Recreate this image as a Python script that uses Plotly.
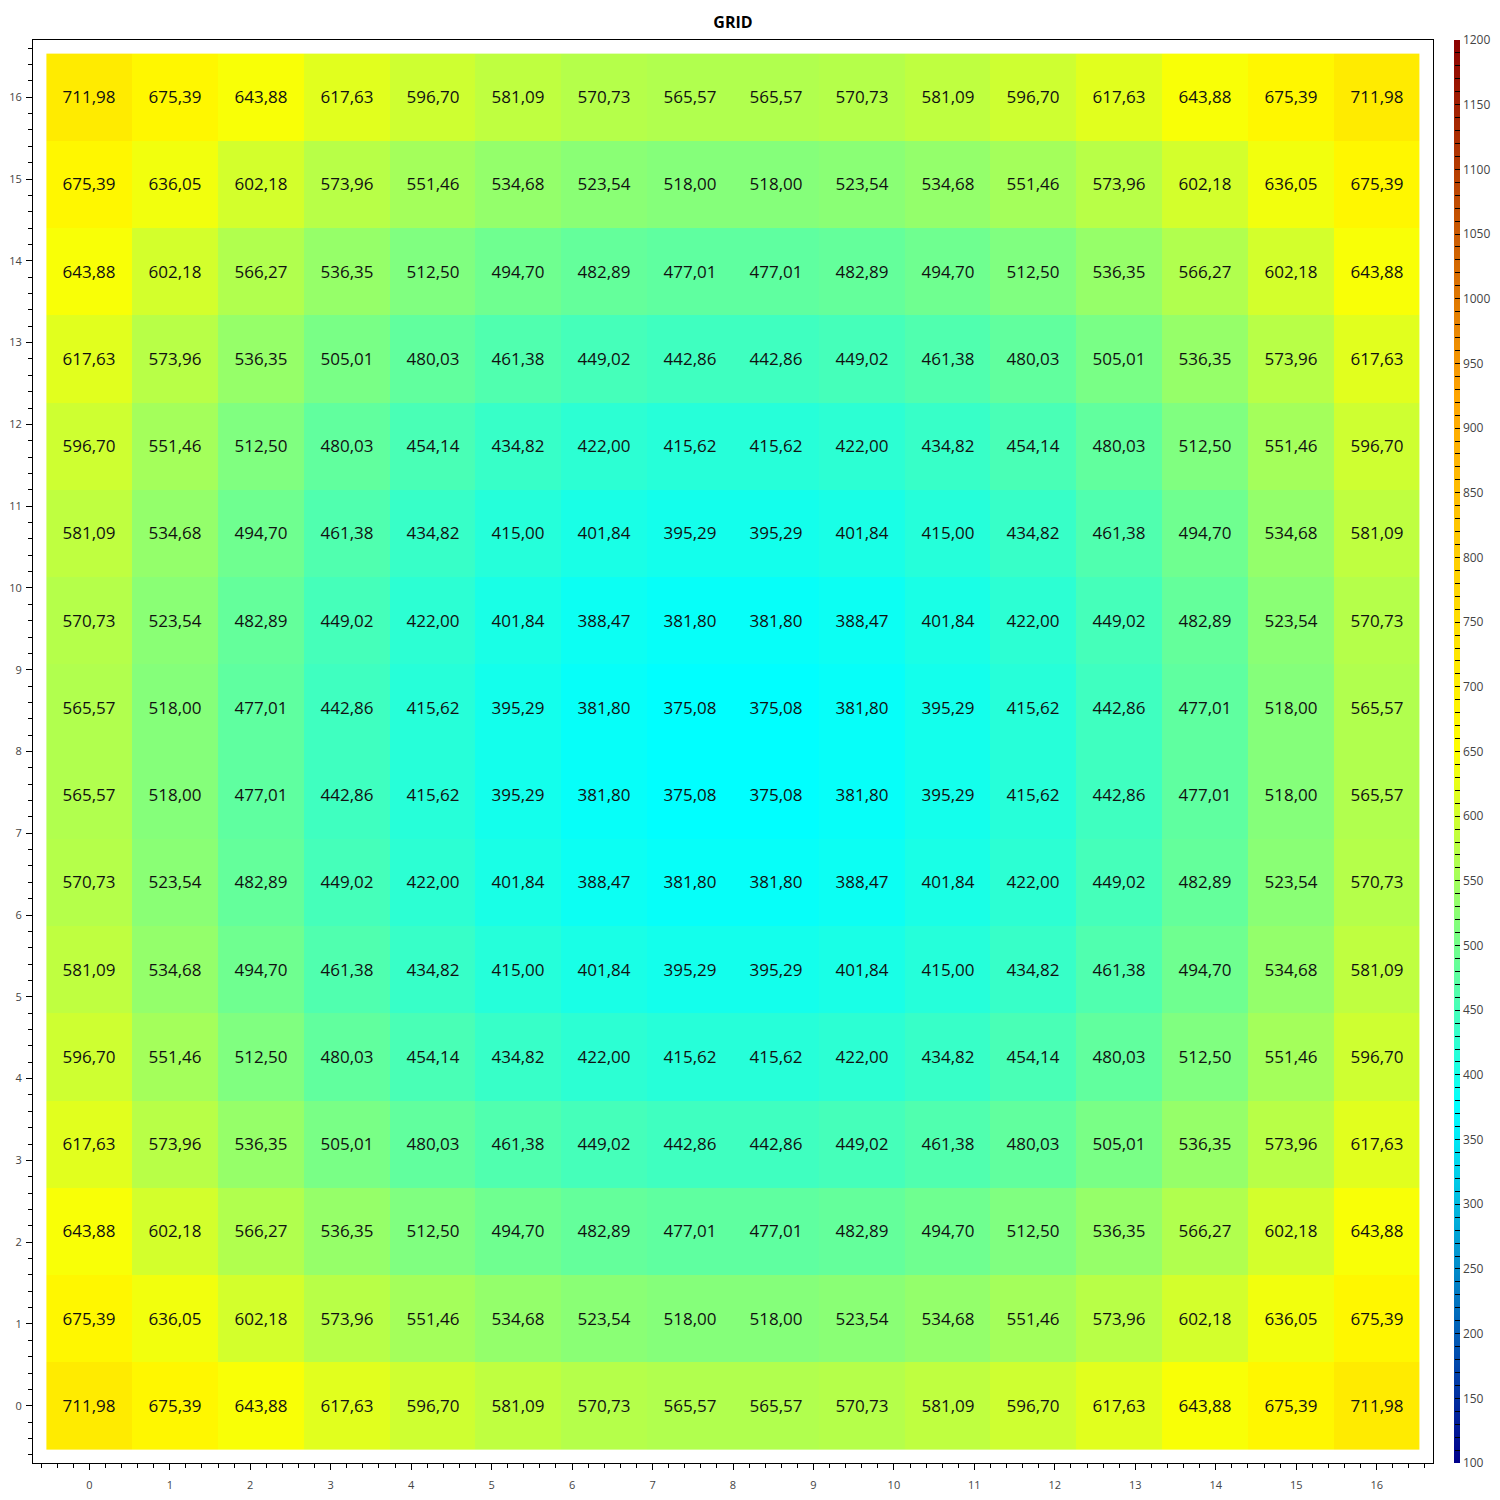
import numpy as np
import plotly.graph_objects as go

# Cell centres along both axes (16 cells spanning axis units 0..16)
x_pos = np.linspace(0, 16, 16)
y_pos = np.linspace(0, 16, 16)

# Values, rows listed from bottom (y=0) to top (y=16)
row_00 = [711.98, 675.39, 643.88, 617.63, 596.70, 581.09, 570.73, 565.57, 565.57, 570.73, 581.09, 596.70, 617.63, 643.88, 675.39, 711.98]
row_01 = [675.39, 636.05, 602.18, 573.96, 551.46, 534.68, 523.54, 518.00, 518.00, 523.54, 534.68, 551.46, 573.96, 602.18, 636.05, 675.39]
row_02 = [643.88, 602.18, 566.27, 536.35, 512.50, 494.70, 482.89, 477.01, 477.01, 482.89, 494.70, 512.50, 536.35, 566.27, 602.18, 643.88]
row_03 = [617.63, 573.96, 536.35, 505.01, 480.03, 461.38, 449.02, 442.86, 442.86, 449.02, 461.38, 480.03, 505.01, 536.35, 573.96, 617.63]
row_04 = [596.70, 551.46, 512.50, 480.03, 454.14, 434.82, 422.00, 415.62, 415.62, 422.00, 434.82, 454.14, 480.03, 512.50, 551.46, 596.70]
row_05 = [581.09, 534.68, 494.70, 461.38, 434.82, 415.00, 401.84, 395.29, 395.29, 401.84, 415.00, 434.82, 461.38, 494.70, 534.68, 581.09]
row_06 = [570.73, 523.54, 482.89, 449.02, 422.00, 401.84, 388.47, 381.80, 381.80, 388.47, 401.84, 422.00, 449.02, 482.89, 523.54, 570.73]
row_07 = [565.57, 518.00, 477.01, 442.86, 415.62, 395.29, 381.80, 375.08, 375.08, 381.80, 395.29, 415.62, 442.86, 477.01, 518.00, 565.57]
row_08 = [565.57, 518.00, 477.01, 442.86, 415.62, 395.29, 381.80, 375.08, 375.08, 381.80, 395.29, 415.62, 442.86, 477.01, 518.00, 565.57]
row_09 = [570.73, 523.54, 482.89, 449.02, 422.00, 401.84, 388.47, 381.80, 381.80, 388.47, 401.84, 422.00, 449.02, 482.89, 523.54, 570.73]
row_10 = [581.09, 534.68, 494.70, 461.38, 434.82, 415.00, 401.84, 395.29, 395.29, 401.84, 415.00, 434.82, 461.38, 494.70, 534.68, 581.09]
row_11 = [596.70, 551.46, 512.50, 480.03, 454.14, 434.82, 422.00, 415.62, 415.62, 422.00, 434.82, 454.14, 480.03, 512.50, 551.46, 596.70]
row_12 = [617.63, 573.96, 536.35, 505.01, 480.03, 461.38, 449.02, 442.86, 442.86, 449.02, 461.38, 480.03, 505.01, 536.35, 573.96, 617.63]
row_13 = [643.88, 602.18, 566.27, 536.35, 512.50, 494.70, 482.89, 477.01, 477.01, 482.89, 494.70, 512.50, 536.35, 566.27, 602.18, 643.88]
row_14 = [675.39, 636.05, 602.18, 573.96, 551.46, 534.68, 523.54, 518.00, 518.00, 523.54, 534.68, 551.46, 573.96, 602.18, 636.05, 675.39]
row_15 = [711.98, 675.39, 643.88, 617.63, 596.70, 581.09, 570.73, 565.57, 565.57, 570.73, 581.09, 596.70, 617.63, 643.88, 675.39, 711.98]

z_values = [row_00, row_01, row_02, row_03, row_04, row_05, row_06, row_07,
            row_08, row_09, row_10, row_11, row_12, row_13, row_14, row_15]

# Axis tick labels
axis_ticks = list(range(0, 17))
cbar_ticks = list(range(100, 1201, 10))
cbar_text = [str(v) if v % 50 == 0 else "" for v in cbar_ticks]

colorscale = [
    [0.00, "#00008B"],
    [0.25, "#00FFFF"],
    [0.50, "#FFFF00"],
    [0.75, "#FFA500"],
    [1.00, "#8B0000"],
]

fig = go.Figure(
    go.Heatmap(
        x=x_pos,
        y=y_pos,
        z=z_values,
        zmin=100,
        zmax=1200,
        colorscale=colorscale,
        texttemplate="%{z:.2f}",
        textfont=dict(family="Open Sans", size=17, color="#111111"),
        hoverinfo="skip",
        colorbar=dict(
            x=1.015,
            xanchor="left",
            xpad=0,
            y=0.5,
            yanchor="middle",
            ypad=0,
            len=1,
            lenmode="fraction",
            thickness=6,
            outlinewidth=0,
            ticks="inside",
            ticklen=5,
            tickwidth=1,
            tickcolor="black",
            tickmode="array",
            tickvals=cbar_ticks,
            ticktext=cbar_text,
            tickfont=dict(family="Open Sans", size=12, color="#444444"),
        ),
    )
)

axis_common = dict(
    automargin=False,
    showgrid=False,
    zeroline=False,
    showline=True,
    linecolor="black",
    linewidth=1,
    mirror=True,
    ticks="outside",
    ticklen=6,
    tickwidth=1,
    tickcolor="black",
    tickfont=dict(family="Open Sans", size=11, color="#444444"),
    tickmode="array",
    tickvals=axis_ticks,
    ticktext=[str(t) for t in axis_ticks],
    range=[-0.7, 16.7],
    minor=dict(dtick=0.2, tick0=0, ticks="outside", ticklen=4, tickwidth=1, tickcolor="black"),
)

fig.update_layout(
    width=1500,
    height=1500,
    margin=dict(l=25, r=75, t=32, b=45, autoexpand=False),
    paper_bgcolor="white",
    plot_bgcolor="white",
    separators=", ",
    font=dict(family="Open Sans", size=11, color="#444444"),
    title=dict(
        text="<b>GRID</b>",
        x=0.5,
        xref="paper",
        xanchor="center",
        y=1 - 14 / 1500,
        yref="container",
        yanchor="middle",
        font=dict(family="Open Sans", size=16, color="black"),
    ),
    xaxis=dict(axis_common, ticklabelstandoff=6),
    yaxis=dict(axis_common, ticklabelstandoff=2),
)

fig.write_html("out.html")
